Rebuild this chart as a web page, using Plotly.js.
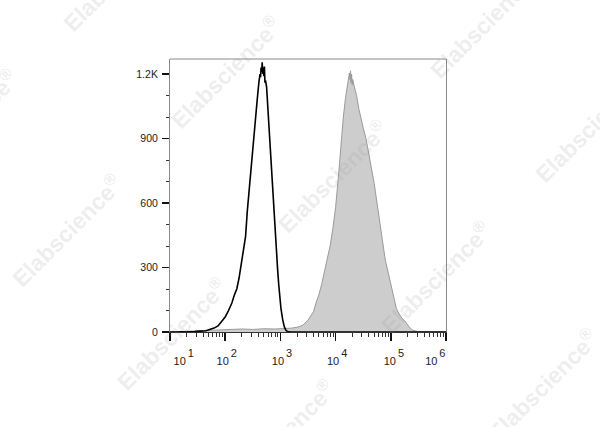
<!DOCTYPE html>
<html>
<head>
<meta charset="utf-8">
<script src="https://cdn.plot.ly/plotly-3.0.1.min.js"></script>
<style>html,body{margin:0;padding:0;background:#fff;}#chart{width:600px;height:427px;}</style>
</head>
<body>
<div id="chart"></div>
<script>
// Control (unstained / isotype) histogram — fluorescence intensity vs count
const controlX = [10, 20, 28, 35, 45, 52, 63, 74, 85, 100, 115, 132, 148, 162, 178, 195, 214, 234, 251, 269, 288, 309, 331, 355, 380, 407, 427, 437, 447, 457, 468, 479, 490, 501, 513, 525, 537, 562, 589, 617, 646, 676, 708, 741, 776, 813, 851, 891, 933, 977, 1023, 1096, 1175, 1259, 1349, 1514, 1000000];
const controlY = [0, 0, 2, 4, 6, 12, 18, 28, 45, 70, 100, 135, 175, 200, 250, 320, 370, 445, 560, 650, 750, 850, 930, 1000, 1080, 1160, 1200, 1185, 1230, 1210, 1255, 1200, 1230, 1190, 1235, 1160, 1170, 1140, 1050, 950, 880, 790, 720, 620, 530, 450, 370, 290, 220, 160, 110, 60, 25, 8, 2, 0, 0];

// Stained sample histogram
const stainedX = [10, 32, 50, 79, 126, 200, 316, 501, 794, 1000, 1259, 1585, 1995, 2512, 3162, 3548, 3981, 4467, 5012, 5623, 6310, 7079, 7943, 8913, 10000, 11220, 12589, 13804, 15136, 16596, 17783, 18197, 18621, 19055, 19498, 19953, 20417, 21878, 23988, 26303, 28840, 31623, 35481, 39811, 44668, 50119, 56234, 63096, 70795, 79433, 89125, 100000, 112202, 125893, 141254, 158489, 177828, 199526, 223872, 251189, 281838, 316228, 501187, 1000000];
const stainedY = [0, 5, 8, 10, 12, 14, 12, 15, 14, 15, 16, 18, 22, 30, 55, 75, 95, 140, 175, 225, 280, 340, 400, 480, 580, 720, 900, 1000, 1090, 1160, 1205, 1175, 1215, 1160, 1200, 1150, 1175, 1140, 1100, 1040, 990, 950, 900, 830, 770, 690, 600, 510, 420, 335, 280, 220, 160, 110, 85, 65, 52, 32, 18, 8, 3, 1, 0, 0];

// Axis ticks
const yTickVals = [0, 300, 600, 900, 1200];
const yTickText = ["0", "300", "600", "900", "1.2K"];
const xTickVals = [10, 100, 1000, 10000, 100000, 1000000];
const xExponents = ["1", "2", "3", "4", "5", "6"];

// label nudges (non-breaking spaces before / after) to mimic the cytometry software layout
const padBefore = [9, 1, 1, 1, 2, 0];
const padAfter = [0, 0, 0, 0, 0, 7];
function sp(n) { return "&nbsp;".repeat(n); }
function base(t) { return "<span style=\"font-size:11px\">" + t + "</span>"; }
function expo(t) { return "<span style=\"font-size:11px\">" + t + "</span>"; }
function gap() { return "<span style=\"font-size:7px\">&nbsp;</span>"; }
const xTickText = xExponents.map((e, i) =>
  base(sp(padBefore[i]) + "10") + "<sup>" + gap() + expo(e) + "</sup>" + (padAfter[i] ? base(sp(padAfter[i])) : "")
);

const wmText = "Elabscience<sup>®</sup>";
const wmPos = [[-0.19,1.308],[0.201,0.952],[-0.751,0.758],[-0.374,0.374],[1.139,1.136],[1.52,0.755],[0.59,0.571],[0.004,-0.007],[0.396,-0.381],[0.963,0.201],[1.348,-0.194]];

const traces = [
  {x: stainedX, y: stainedY, type: 'scatter', mode: 'lines', fill: 'tozeroy',
   fillcolor: '#cdcdcd', line: {color: '#9a9a9a', width: 1}, hoverinfo: 'skip'},
  {x: controlX, y: controlY, type: 'scatter', mode: 'lines',
   line: {color: '#000000', width: 1.6}, hoverinfo: 'skip'}
];

const annotations = wmPos.map(p => ({
  x: p[0], y: p[1], xref: 'paper', yref: 'paper', text: wmText, showarrow: false,
  textangle: -45, xanchor: 'center', yanchor: 'middle',
  font: {family: 'Liberation Sans, Arial, sans-serif', size: 23, color: 'rgba(150,150,150,0.18)', weight: 'bold'}
}));

const layout = {
  width: 600, height: 427,
  margin: {l: 170, r: 154, t: 59, b: 95},
  paper_bgcolor: '#ffffff', plot_bgcolor: '#ffffff',
  showlegend: false,
  font: {family: 'Liberation Sans, Arial, sans-serif', size: 11, color: '#222'},
  xaxis: {
    type: 'log', range: [1, 6], showgrid: false, zeroline: false,
    showline: true, linecolor: '#333', linewidth: 1.2,
    ticks: 'outside', ticklen: 8, tickwidth: 1.6, tickcolor: '#111',
    tickvals: xTickVals, ticktext: xTickText, ticklabelstandoff: 0,
    tickfont: {size: 20, color: '#222'},
    minor: {ticks: 'outside', ticklen: 4, tickwidth: 1, tickcolor: '#333', dtick: 'D1', showgrid: false}
  },
  yaxis: {
    range: [0, 1270], showgrid: false, zeroline: false,
    showline: true, linecolor: '#888', linewidth: 1, mirror: true,
    ticks: 'outside', ticklen: 7, tickwidth: 1.6, tickcolor: '#111',
    tickvals: yTickVals, ticktext: yTickText, ticklabelstandoff: 2,
    tickfont: {size: 10.5, color: '#222'},
    minor: {ticks: 'outside', ticklen: 3, tickwidth: 1, tickcolor: '#333', dtick: 100, showgrid: false}
  },
  shapes: [
    {type: 'line', xref: 'paper', yref: 'paper', x0: 0, x1: 1, y0: 1, y1: 1, line: {color: '#888', width: 1}}
  ],
  annotations: annotations
};

Plotly.newPlot('chart', traces, layout, {staticPlot: true, displayModeBar: false});
</script>
</body>
</html>
